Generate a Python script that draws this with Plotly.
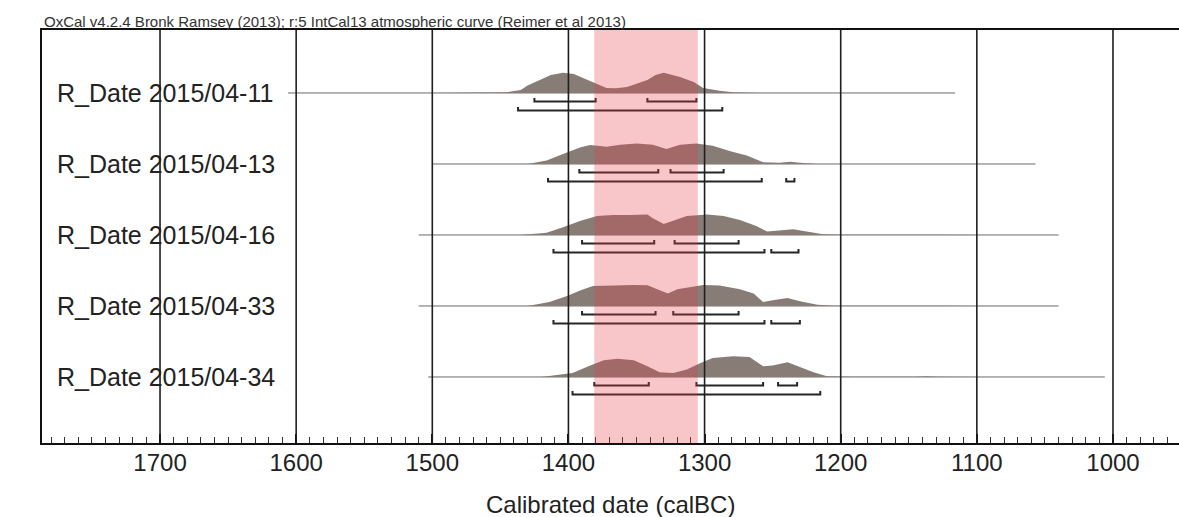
import plotly.graph_objects as go

# ---------------- data ----------------
labels = ["R_Date 2015/04-11", "R_Date 2015/04-13", "R_Date 2015/04-16",
          "R_Date 2015/04-33", "R_Date 2015/04-34"]

yrs_11 = [1500, 1460, 1445, 1435, 1430, 1421, 1413, 1404, 1396, 1391, 1382, 1372, 1365, 1357,
          1342, 1336, 1330, 1318, 1308, 1301, 1289, 1279, 1260]
den_11 = [0.0, 0.02, 0.04, 0.14, 0.35, 0.62, 0.85, 0.96, 0.9, 0.76, 0.52, 0.24, 0.22, 0.29,
          0.62, 0.85, 0.96, 0.76, 0.52, 0.24, 0.1, 0.03, 0.0]

yrs_13 = [1430, 1416, 1404, 1391, 1384, 1378, 1372, 1362, 1350, 1338, 1328, 1318, 1306, 1294,
          1281, 1269, 1262, 1257, 1245, 1237, 1228, 1218]
den_13 = [0.0, 0.16, 0.48, 0.8, 0.9, 0.86, 0.82, 0.92, 0.98, 0.92, 0.71, 0.92, 0.98, 0.87,
          0.6, 0.4, 0.2, 0.08, 0.06, 0.11, 0.05, 0.0]

yrs_16 = [1435, 1416, 1404, 1391, 1379, 1367, 1355, 1342, 1338, 1330, 1323, 1313, 1298, 1286,
          1274, 1262, 1254, 1245, 1235, 1225, 1213, 1200, 1150, 1140, 1130, 1100]
den_16 = [0.0, 0.11, 0.37, 0.68, 0.9, 0.95, 0.95, 0.97, 0.8, 0.52, 0.68, 0.9, 0.97, 0.9,
          0.71, 0.43, 0.16, 0.2, 0.27, 0.16, 0.03, 0.01, 0.01, 0.04, 0.01, 0.0]

yrs_33 = [1430, 1414, 1401, 1391, 1382, 1367, 1352, 1342, 1335, 1327, 1320, 1311, 1301, 1289,
          1274, 1264, 1257, 1250, 1239, 1230, 1217, 1205, 1145, 1137, 1128, 1100]
den_33 = [0.0, 0.19, 0.48, 0.75, 0.95, 0.99, 1.0, 0.99, 0.8, 0.59, 0.8, 0.9, 1.0, 0.98,
          0.8, 0.59, 0.19, 0.27, 0.38, 0.22, 0.06, 0.01, 0.01, 0.04, 0.01, 0.0]

yrs_34 = [1420, 1397, 1384, 1374, 1364, 1352, 1342, 1333, 1323, 1313, 1303, 1294, 1279, 1267,
          1257, 1250, 1239, 1230, 1220, 1210, 1190, 1145, 1137, 1128, 1100]
den_34 = [0.0, 0.19, 0.54, 0.8, 0.87, 0.8, 0.51, 0.22, 0.19, 0.35, 0.67, 0.9, 0.99, 0.95,
          0.51, 0.54, 0.7, 0.48, 0.22, 0.03, 0.01, 0.01, 0.04, 0.01, 0.0]

years_list = [yrs_11, yrs_13, yrs_16, yrs_33, yrs_34]
dens_list = [den_11, den_13, den_16, den_33, den_34]

# 68.2% and 95.4% ranges (calBC, from -> to)
r68 = [[(1425, 1380), (1342, 1306)],
       [(1392, 1334), (1325, 1286)],
       [(1390, 1337), (1322, 1275)],
       [(1390, 1336), (1323, 1275)],
       [(1381, 1341), (1306, 1257), (1246, 1232)]]
r95 = [[(1437, 1287)],
       [(1415, 1258), (1240, 1234)],
       [(1411, 1256), (1251, 1231)],
       [(1411, 1256), (1251, 1230)],
       [(1397, 1215)]]

# extent of each plotted distribution line
line_from = [1606, 1500, 1510, 1510, 1503]
line_to = [1116, 1057, 1040, 1040, 1006]

band = (1381, 1305)
tick_vals = [1700, 1600, 1500, 1400, 1300, 1200, 1100, 1000]
tick_text = ["1700", "1600", "1500", "1400", "1300", "1200", "1100", "1000"]
header = "OxCal v4.2.4 Bronk Ramsey (2013); r:5 IntCal13 atmospheric curve (Reimer et al 2013)"
x_title = "Calibrated date (calBC)"

# ---------------- styling ----------------
FONT = "Arial, Liberation Sans, sans-serif"
H = 0.296          # height of a density of 1.0 (row units)
OFF68 = 0.12
OFF95 = 0.247
TICK = 0.05
DIST_COL = "rgb(136,124,119)"
INK = "#262626"

fig = go.Figure()
n = len(labels)
for i in range(n):
    base = n - i
    # baseline
    fig.add_trace(go.Scatter(x=[line_from[i], line_to[i]], y=[base, base], mode="lines",
                             line=dict(color="#6a6a6a", width=1), hoverinfo="skip",
                             showlegend=False))
    # distribution
    xs = list(years_list[i]) + list(reversed(years_list[i]))
    ys = [base + d * H for d in dens_list[i]] + [base] * len(years_list[i])
    fig.add_trace(go.Scatter(x=xs, y=ys, mode="lines", fill="toself", fillcolor=DIST_COL,
                             line=dict(width=0, color=DIST_COL), hoverinfo="skip",
                             showlegend=False))
    # brackets
    for ranges, off in ((r68[i], OFF68), (r95[i], OFF95)):
        bx, by = [], []
        yb = base - off
        for a, b in ranges:
            bx += [a, a, b, b, None]
            by += [yb + TICK, yb, yb, yb + TICK, None]
        fig.add_trace(go.Scatter(x=bx, y=by, mode="lines",
                                 line=dict(color=INK, width=2), hoverinfo="skip",
                                 showlegend=False))
    # label
    fig.add_annotation(x=1777, y=base, xref="x", yref="y", text=labels[i],
                       showarrow=False, xanchor="left", yanchor="middle",
                       font=dict(family=FONT, size=25, color="#222"))

shapes = []
for t in tick_vals:
    shapes.append(dict(type="line", xref="x", yref="paper", x0=t, x1=t, y0=0, y1=1,
                       line=dict(color="#1e1e1e", width=1.6), layer="above"))
shapes.append(dict(type="rect", xref="x", yref="paper", x0=band[0], x1=band[1], y0=0, y1=1,
                   fillcolor="rgba(232,55,70,0.29)", line=dict(width=0), layer="above"))

fig.add_annotation(x=0, y=1.0, xref="paper", yref="paper", text=header, showarrow=False,
                   xanchor="left", yanchor="bottom", yshift=-2,
                   font=dict(family=FONT, size=15, color="#333"))
fig.add_annotation(x=0.5, y=-0.15, xref="paper", yref="paper", text=x_title, showarrow=False,
                   xanchor="center", yanchor="middle",
                   font=dict(family=FONT, size=24, color="#222"))

fig.update_layout(
    width=1179, height=517,
    margin=dict(l=42, r=0, t=30, b=74),
    paper_bgcolor="white", plot_bgcolor="white",
    shapes=shapes,
    showlegend=False,
    xaxis=dict(range=[1786.7, 951.5], tickvals=tick_vals, ticktext=tick_text,
               showgrid=False, zeroline=False, showline=True, linecolor="#111", linewidth=2,
               mirror=True, ticks="inside", ticklen=9, tickwidth=1.5, tickcolor="#111",
               ticklabelstandoff=-3,
               tickfont=dict(family=FONT, size=24, color="#222"),
               minor=dict(dtick=10, tick0=1000, ticks="inside", ticklen=6, tickwidth=1,
                          tickcolor="#333", showgrid=False),
               fixedrange=True),
    yaxis=dict(range=[0.07, 5.887], showgrid=False, zeroline=False, showticklabels=False,
               showline=True, linecolor="#111", linewidth=2, ticks="", fixedrange=True),
)

fig.write_html("out.html")
